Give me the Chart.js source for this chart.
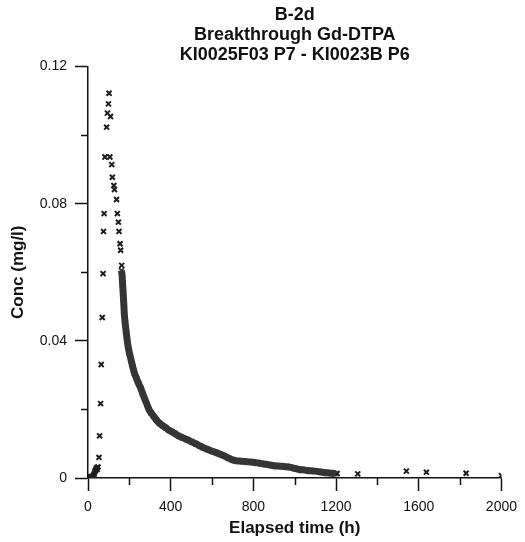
<!DOCTYPE html>
<html>
<head>
<meta charset="utf-8">
<script src="https://cdn.jsdelivr.net/npm/chart.js@4/dist/chart.umd.min.js"></script>
<style>
  html, body { margin: 0; padding: 0; background: #fff; }
  canvas { display: block; }
</style>
</head>
<body>
<canvas id="c" width="525" height="542"></canvas>
<script>
// ---- Data ----
const titleLines = ["B-2d", "Breakthrough Gd-DTPA", "KI0025F03 P7 - KI0023B P6"];
const xAxisTitle = "Elapsed time (h)";
const yAxisTitle = "Conc (mg/l)";

// early phase and breakthrough peak (elapsed time h, conc mg/l)
const peakTime = [0, 3, 6, 9, 12, 15, 18, 21, 24, 27, 30, 33, 36, 39, 42, 45, 48,
  53, 56, 61, 64, 69, 73, 75, 78, 82, 90, 94, 99, 102, 106, 109, 115, 118, 125, 128,
  138, 142, 147, 150, 155, 158, 163];
const peakConc = [0.0003, 0.0001, 0.0004, 0.0002, 0.0003, 0.0001, 0.0004, 0.0002, 0.0005,
  0.0008, 0.0012, 0.0018, 0.0022, 0.0026, 0.0030, 0.0025, 0.0032,
  0.0060, 0.0123, 0.0217, 0.0331, 0.0468, 0.0596, 0.0719, 0.0771, 0.0936, 0.1023, 0.1064,
  0.1091, 0.1122, 0.0936, 0.1054, 0.0914, 0.0877, 0.0853, 0.0841,
  0.0812, 0.0771, 0.0746, 0.0719, 0.0683, 0.0664, 0.0620];

// dense tailing band
const bandTime = [162, 165, 168, 170, 173, 176, 180, 185, 190, 195, 200, 208, 216, 225, 235,
  245, 255, 265, 275, 285, 295, 305, 318, 330, 345, 360, 375, 390, 405, 420, 440, 460, 480,
  500, 520, 540, 560, 580, 600, 620, 640, 660, 680, 700, 720, 740, 760, 780, 800, 820, 840,
  860, 880, 900, 920, 940, 960, 980, 1000, 1020, 1040, 1060, 1080, 1100, 1120, 1140, 1160,
  1180, 1195];
const bandConc = [0.0605, 0.0590, 0.0560, 0.0540, 0.0510, 0.0475, 0.0450, 0.0425, 0.0400,
  0.0380, 0.0365, 0.0345, 0.0325, 0.0305, 0.0290, 0.0275, 0.0262, 0.0245, 0.0230, 0.0215,
  0.0200, 0.0190, 0.0180, 0.0170, 0.0160, 0.0153, 0.0147, 0.0140, 0.0135, 0.0130, 0.0122,
  0.0117, 0.0112, 0.0106, 0.0100, 0.0094, 0.0088, 0.0083, 0.0078, 0.0074, 0.0069, 0.0064,
  0.0058, 0.0053, 0.0050, 0.0049, 0.0048, 0.0047, 0.0046, 0.0044, 0.0042, 0.0040, 0.0038,
  0.0036, 0.0035, 0.0034, 0.0033, 0.0031, 0.0028, 0.0025, 0.0024, 0.0022, 0.0021, 0.0020,
  0.0018, 0.0016, 0.0015, 0.0014, 0.0013];

// late sparse samples
const tailTime = [1205, 1305, 1540, 1637, 1829, 2000];
const tailConc = [0.0013, 0.0012, 0.0020, 0.0017, 0.0014, 0.0007];

// axis ticks
const xMajorTicks = [0, 400, 800, 1200, 1600, 2000];
const xMinorTicks = [200, 600, 1000, 1400, 1800];
const yMajorTicks = [0, 0.04, 0.08, 0.12];
const yMinorTicks = [0.02, 0.06, 0.10];

const toPoints = (xs, ys) => xs.map((x, i) => ({ x: x, y: ys[i] }));

const FONT = "'Liberation Sans', Arial, Helvetica, sans-serif";
const INK = '#111';
const MARK = '#1e1e1e';

const minorTicks = {
  id: 'minorTicks',
  afterDraw(chart) {
    const ctx = chart.ctx;
    const xs = chart.scales.x, ys = chart.scales.y;
    const a = chart.chartArea;
    ctx.save();
    ctx.strokeStyle = INK;
    ctx.lineWidth = 1.5;
    ctx.beginPath();
    xMinorTicks.forEach(v => {
      const px = Math.round(xs.getPixelForValue(v)) + 0.5;
      ctx.moveTo(px, a.bottom);
      ctx.lineTo(px, a.bottom + 7);
    });
    yMinorTicks.forEach(v => {
      const py = Math.round(ys.getPixelForValue(v)) + 0.5;
      ctx.moveTo(a.left, py);
      ctx.lineTo(a.left - 7, py);
    });
    ctx.stroke();
    ctx.restore();
  }
};

new Chart(document.getElementById('c'), {
  type: 'scatter',
  data: {
    datasets: [
      {
        label: 'peak',
        data: toPoints(peakTime, peakConc),
        pointStyle: 'crossRot',
        pointRadius: 3.5,
        pointBorderWidth: 2,
        borderColor: MARK,
        backgroundColor: MARK,
        showLine: false
      },
      {
        label: 'band',
        data: toPoints(bandTime, bandConc),
        pointStyle: 'crossRot',
        pointRadius: 3.5,
        pointBorderWidth: 1.8,
        borderColor: '#353535',
        backgroundColor: '#353535',
        showLine: true,
        borderWidth: 7,
        tension: 0.3
      },
      {
        label: 'tail',
        data: toPoints(tailTime, tailConc),
        pointStyle: 'crossRot',
        pointRadius: 3.5,
        pointBorderWidth: 2,
        borderColor: MARK,
        backgroundColor: MARK,
        showLine: false
      }
    ]
  },
  options: {
    responsive: false,
    animation: false,
    layout: { padding: { left: 0, right: 19, top: 0, bottom: 0 } },
    plugins: {
      legend: { display: false },
      tooltip: { enabled: false },
      title: {
        display: true,
        text: titleLines,
        fullSize: false,
        color: INK,
        font: { family: FONT, weight: 'bold', size: 18, lineHeight: 1.12 },
        padding: { top: 5, bottom: 1 }
      }
    },
    scales: {
      x: {
        type: 'linear',
        min: 0,
        max: 2000,
        afterFit: s => { s.height = 64; },
        afterBuildTicks: s => { s.ticks = xMajorTicks.map(v => ({ value: v })); },
        ticks: {
          color: INK,
          font: { family: FONT, size: 14 },
          padding: 8,
          maxRotation: 0,
          callback: v => String(v)
        },
        grid: { display: true, drawOnChartArea: false, drawTicks: true, tickLength: 13, tickWidth: 1.5, tickColor: INK, color: INK },
        border: { display: true, color: INK, width: 1.5 },
        title: {
          display: true,
          text: xAxisTitle,
          color: INK,
          font: { family: FONT, weight: 'bold', size: 17, lineHeight: 1.2 },
          padding: { top: 0, bottom: 3 }
        }
      },
      y: {
        type: 'linear',
        min: 0,
        max: 0.12,
        afterFit: s => { s.width = 88; },
        afterBuildTicks: s => { s.ticks = yMajorTicks.map(v => ({ value: v })); },
        ticks: {
          color: INK,
          font: { family: FONT, size: 14 },
          padding: 8,
          callback: v => (v === 0 ? '0' : v.toFixed(2))
        },
        grid: { display: true, drawOnChartArea: false, drawTicks: true, tickLength: 13, tickWidth: 1.5, tickColor: INK, color: INK },
        border: { display: true, color: INK, width: 1.5 },
        title: {
          display: true,
          text: yAxisTitle,
          color: INK,
          font: { family: FONT, weight: 'bold', size: 17, lineHeight: 1.2 },
          padding: { top: 8, bottom: 0 }
        }
      }
    }
  },
  plugins: [minorTicks]
});
</script>
</body>
</html>
